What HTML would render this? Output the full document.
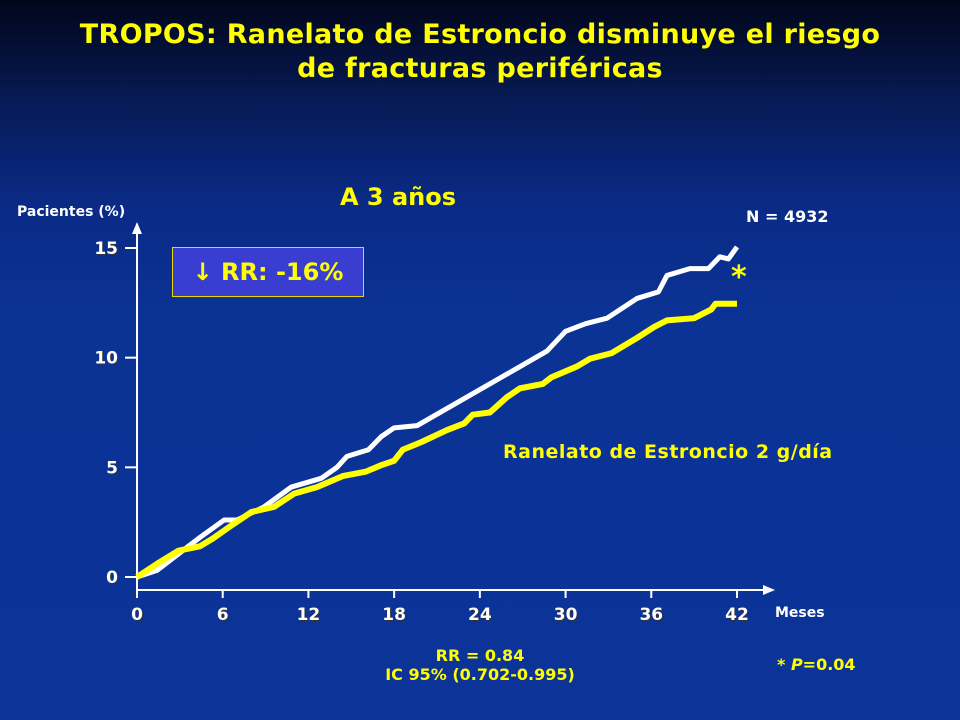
<!DOCTYPE html>
<html><head><meta charset="utf-8"><style>
html,body{margin:0;padding:0}
body{width:960px;height:720px;overflow:hidden;background:linear-gradient(180deg,#02061a 0%,#071a55 14%,#0a2a85 28%,#0b3396 45%,#0b3398 100%);font-family:"DejaVu Sans","Liberation Sans",sans-serif;position:relative}
.t{position:absolute;font-weight:bold;white-space:nowrap}
</style></head><body>
<div class="t" style="left:0;width:960px;text-align:center;top:18px;color:#ffff00;font-size:27px;line-height:34px;letter-spacing:0.3px">TROPOS: Ranelato de Estroncio disminuye el riesgo<br>de fracturas periféricas</div>
<div class="t" style="left:340px;top:183px;color:#ffff00;font-size:24px">A 3 años</div>
<div class="t" style="left:17px;top:204px;color:#fff;font-size:14px">Pacientes (%)</div>
<div class="t" style="left:746px;top:207px;color:#fff;font-size:16px">N = 4932</div>
<div class="t" style="left:172px;top:247px;width:190px;height:48px;border:1px solid #e8d800;background:#3a3ed0;color:#ffff00;font-size:24px;line-height:48px;text-align:center">↓ RR: -16%</div>
<div class="t" style="left:731px;top:260px;color:#ffff00;font-size:30px">*</div>
<div class="t" style="left:503px;top:441px;color:#ffff00;font-size:19px;letter-spacing:0.5px">Ranelato de Estroncio 2 g/día</div>
<div class="t" style="left:775px;top:605px;color:#fff;font-size:14px">Meses</div>
<div class="t" style="left:330px;width:300px;text-align:center;top:646px;color:#ffff00;font-size:16px;line-height:19px">RR = 0.84<br>IC 95% (0.702-0.995)</div>
<div class="t" style="left:777px;top:655px;color:#ffff00;font-size:16px">* <i>P</i>=0.04</div>
<svg id="chart" width="960" height="720" style="position:absolute;left:0;top:0"></svg>
<script>
const xTicks=[0,6,12,18,24,30,36,42];
const yTicks=[0,5,10,15];
const placeboX=[0,1.4,4.4,6.1,7,8.9,10.8,12.9,14,14.7,16.2,17.1,18,19.6,28.7,30,31.4,32.9,35,36.5,37.1,38.7,40,40.8,41.4,42];
const placeboY=[0,0.3,1.8,2.6,2.6,3.2,4.1,4.5,5.0,5.5,5.8,6.4,6.8,6.9,10.3,11.2,11.55,11.8,12.7,13.0,13.75,14.06,14.06,14.6,14.5,15.05];
const srX=[0,1.4,2.9,4.4,5.3,6.5,8,9.6,11,12.6,14.4,16,17.1,18,18.6,19.9,21.7,22.9,23.5,24.7,25.9,26.8,28.4,29,30.8,31.7,33.2,35,36.2,37.1,39,40.2,40.5,42];
const srY=[0,0.6,1.2,1.4,1.75,2.3,2.96,3.2,3.8,4.1,4.6,4.8,5.1,5.3,5.8,6.15,6.7,7.0,7.4,7.5,8.2,8.6,8.8,9.1,9.6,9.95,10.2,10.9,11.4,11.7,11.8,12.2,12.46,12.46];
const NS="http://www.w3.org/2000/svg";
const svg=document.getElementById('chart');
const X=m=>137+m*(600/42);
const Y=v=>577-v*(329/15);
function mk(t,a){const e=document.createElementNS(NS,t);for(const k in a)e.setAttribute(k,a[k]);svg.appendChild(e);return e;}
let e;
e=mk('line',{x1:137,y1:590,x2:765,y2:590,stroke:'#fff','stroke-width':2});


e=mk('polygon',{points:'775,590 763,585 763,595',fill:'#fff'});


e=mk('line',{x1:137,y1:590,x2:137,y2:232,stroke:'#fff','stroke-width':2});


e=mk('polygon',{points:'137,222 132,234 142,234',fill:'#fff'});


xTicks.forEach(v=>{
 e=mk('line',{x1:X(v),y1:590,x2:X(v),y2:598,stroke:'#fff','stroke-width':2});
 
 
 e=mk('text',{x:X(v),y:620,'text-anchor':'middle',fill:'#fff','font-size':17,'font-weight':'bold','font-family':'DejaVu Sans, sans-serif',style:'text-shadow:1px 1px 0 #333'});
 e.textContent=v;
 
 
});
yTicks.forEach(v=>{
 e=mk('line',{x1:125,y1:Y(v),x2:137,y2:Y(v),stroke:'#fff','stroke-width':2});
 
 
 e=mk('text',{x:118,y:Y(v)+6,'text-anchor':'end',fill:'#fff','font-size':17,'font-weight':'bold','font-family':'DejaVu Sans, sans-serif',style:'text-shadow:1px 1px 0 #333'});
 e.textContent=v;
 
 
});
e=mk('polyline',{points:placeboX.map((x,i)=>X(x)+','+Y(placeboY[i])).join(' '),fill:'none',stroke:'#fff','stroke-width':5,'stroke-linejoin':'round'});


e=mk('polyline',{points:srX.map((x,i)=>X(x)+','+Y(srY[i])).join(' '),fill:'none',stroke:'#ffff00','stroke-width':6,'stroke-linejoin':'round'});


</script>
</body></html>
